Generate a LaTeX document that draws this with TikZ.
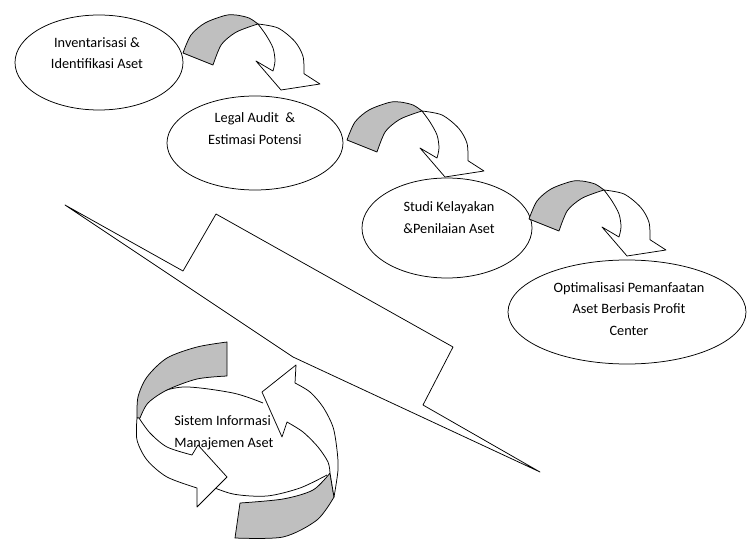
\documentclass[tikz,border=0pt]{standalone}
\usepackage{fontspec}
\setmainfont{Carlito}
\usetikzlibrary{shapes.geometric}
\begin{document}
\begin{tikzpicture}[x=1pt,y=-1pt,
  line width=0.75pt, line join=round,
  oval/.style={draw, ellipse, fill=white, inner sep=0pt},
  txt/.style={align=center, inner sep=0pt, font=\fontsize{14.3}{21.5}\selectfont},
  back/.style={draw, fill=black!25},
  front/.style={draw, fill=white},
  curvedarrow/.pic={
    % underside of the ribbon
    \filldraw[back] plot[smooth] coordinates {(0,0) (8,-18) (22,-30) (42,-37.5) (53,-38) (66,-35) (75,-29)}
      -- plot[smooth] coordinates {(75,-29) (65,-25.7) (51.7,-20) (38.3,-8.3) (30,12)} -- cycle;
    % top side of the ribbon with its head
    \filldraw[front] plot[smooth] coordinates {(75,-29) (95,-25) (111.7,-11.7) (120,3.3) (121,20.7)}
      -- (137,31) -- (98,37) -- (73,8)
      -- plot[smooth] coordinates {(90,18) (92,8) (90,-5) (83,-18) (75,-29)} -- cycle;
  }
]
\useasboundingbox (0,0) rectangle (747,540);

% lightning bolt
\filldraw[fill=white] (65,205) coordinate (b0) -- (183,271) -- (216,214) -- (453,347)
  -- (423,405) -- (540,472) coordinate (b1) -- (293,357) -- cycle;

% process stages
\node[oval, minimum width=168pt, minimum height=95pt] (e1) at (99,62.5) {};
\node[oval, minimum width=176pt, minimum height=94pt] (e2) at (255,143) {};
\node[oval, minimum width=170pt, minimum height=100pt] (e3) at (447,228) {};
\node[oval, minimum width=238pt, minimum height=104pt] (e4) at (627,312) {};

\node[txt] (t1) at (97,53) {Inventarisasi \&\\Identifikasi Aset};
\node[txt] (t2) at (255,128.5) {Legal Audit~~\&\\Estimasi Potensi};
\node[txt] (t3) at (449,217.5) {Studi Kelayakan\\\&Penilaian Aset};
\node[txt] (t4) at (629,309) {Optimalisasi Pemanfaatan\\Aset Berbasis Profit\\Center};

% step arrows
\pic (a1) at (183,53) {curvedarrow};
\pic (a2) at (347,140) {curvedarrow};
\pic (a3) at (529,219) {curvedarrow};

% information system cycle
\draw plot[smooth] coordinates {(139,417) (150,397) (183,387) (233,393) (263,403)};
\draw plot[smooth] coordinates {(205,484) (233,494) (267,496) (300,488) (327,475)};
\filldraw[back] plot[smooth] coordinates {(227,342) (197,347) (167,358) (147,377) (138,397) (137,418)}
  -- plot[smooth] coordinates {(140,418) (148,403) (167,390) (197,379) (227,376)} -- cycle;
\filldraw[back] plot[smooth] coordinates {(240,503) (283,499) (313,490) (330,473)}
  -- plot[smooth] coordinates {(334,497) (317,520) (283,537) (235,538)} -- cycle;

\node[txt, align=left, anchor=west] (t5) at (174,433) {Sistem Informasi\\Manajemen Aset};

\filldraw[front] plot[smooth] coordinates {(137,418) (137,440) (147,460) (167,477) (197,488)}
  -- (197,507) -- (227,477) -- (198,445)
  -- plot[smooth] coordinates {(192,455) (167,447) (150,433) (139,418)} -- cycle;
\filldraw[front] plot[smooth] coordinates {(334,497) (338,470) (337,450) (333,427) (323,407) (310,392) (295,383)}
  -- (296,365) -- (262,392) -- (282,437)
  -- plot[smooth] coordinates {(287,422) (303,432) (318,447) (328,462) (330,473)} -- cycle;
\end{tikzpicture}
\end{document}
